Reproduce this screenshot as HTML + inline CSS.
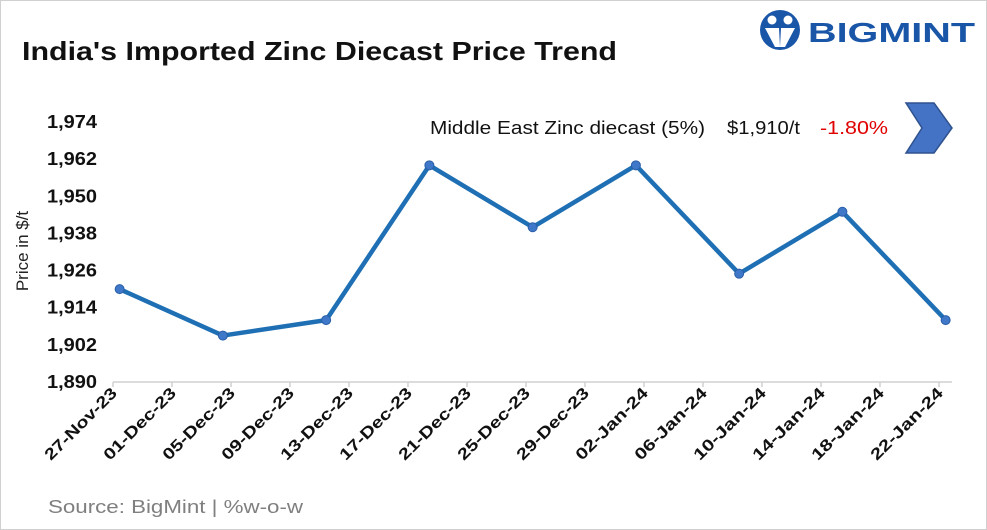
<!DOCTYPE html>
<html><head><meta charset="utf-8"><style>
body{margin:0;width:987px;height:530px;background:#fff;font-family:"Liberation Sans",sans-serif;overflow:hidden}
#frame{position:absolute;left:0;top:0;width:985px;height:528px;border:1px solid #d0d0d0}
</style></head><body>
<div id="frame"></div>
<svg width="987" height="530" style="position:absolute;left:0;top:0" id="chart">
<text x="22" y="60" font-size="26" font-weight="bold" fill="#111" textLength="595" lengthAdjust="spacingAndGlyphs">India's Imported Zinc Diecast Price Trend</text>
<g>
<circle cx="780" cy="30" r="20" fill="#1a56a8"/>
<circle cx="772" cy="20" r="4.5" fill="#fff"/><circle cx="788" cy="20" r="4.5" fill="#fff"/>
<path d="M765 28 L779 28 L780 47 L775 47 Z M781 28 L795 28 L785 47 L780 47 Z" fill="#fff"/>
<text x="808" y="42" font-size="28" font-weight="bold" fill="#1a56a8" textLength="167" lengthAdjust="spacingAndGlyphs">BIGMINT</text>
</g>
<text transform="translate(28,251) rotate(-90)" text-anchor="middle" font-size="17" fill="#222">Price in $/t</text>
<g id="yaxis"></g><g id="xaxis"></g><g id="series"></g>
<text x="430" y="134" font-size="18" fill="#111" textLength="275" lengthAdjust="spacingAndGlyphs">Middle East Zinc diecast (5%)</text>
<text x="727" y="134" font-size="18" fill="#111" textLength="73" lengthAdjust="spacingAndGlyphs">$1,910/t</text>
<text x="820" y="134" font-size="18" fill="#e00000" textLength="68" lengthAdjust="spacingAndGlyphs">-1.80%</text>
<path d="M906 103 L934 103 L952 128 L934 153 L906 153 L922 128 Z" fill="#4472c4" stroke="#2f528f" stroke-width="1.5"/>
<text x="48" y="513" font-size="18" fill="#7f7f7f" textLength="255" lengthAdjust="spacingAndGlyphs">Source: BigMint | %w-o-w</text>
</svg>
<script>
const yTicks=[1890,1902,1914,1926,1938,1950,1962,1974];
const xTickLabels=["27-Nov-23","01-Dec-23","05-Dec-23","09-Dec-23","13-Dec-23","17-Dec-23","21-Dec-23","25-Dec-23","29-Dec-23","02-Jan-24","06-Jan-24","10-Jan-24","14-Jan-24","18-Jan-24","22-Jan-24"];
const pointDays=[0,7,14,21,28,35,42,49,56];
const priceValues=[1920,1905,1910,1960,1940,1960,1925,1945,1910];
const NS="http://www.w3.org/2000/svg";
const yMin=1890,yMax=1974,yTop=122,yBot=382,x0=113,pxDay=14.75;
const ys=v=>yBot-(v-yMin)/(yMax-yMin)*(yBot-yTop);
const xs=d=>x0+(d+0.45)*pxDay;
function mk(tag,attrs,parent){const e=document.createElementNS(NS,tag);for(const k in attrs)e.setAttribute(k,attrs[k]);parent.appendChild(e);return e;}
const ya=document.getElementById('yaxis'),xa=document.getElementById('xaxis'),se=document.getElementById('series');
yTicks.forEach(v=>{const t=mk('text',{x:97,y:ys(v)+6,'text-anchor':'end','font-size':18,'font-weight':'bold',fill:'#111',textLength:50,lengthAdjust:'spacingAndGlyphs'},ya);t.textContent=v.toLocaleString('en-US');

});
const ax=mk('line',{x1:x0,x2:952,y1:yBot,y2:yBot,stroke:'#d0d0d0','stroke-width':1.5},xa);


xTickLabels.forEach((l,i)=>{const x=x0+i*4*pxDay;
mk('line',{x1:x,x2:x,y1:yBot,y2:yBot+5,stroke:'#d0d0d0','stroke-width':1.5},xa);
const t=mk('text',{transform:`translate(${x+5},${yBot+12}) rotate(-45)`,'text-anchor':'end','font-size':16,'font-weight':'bold',fill:'#111',textLength:95,lengthAdjust:'spacingAndGlyphs'},xa);t.textContent=l;

});
const pts=priceValues.map((v,i)=>[xs(pointDays[i]),ys(v)]);
const pl=mk('polyline',{points:pts.map(p=>p.join(',')).join(' '),fill:'none',stroke:'#1f6fb5','stroke-width':4.5,'stroke-linejoin':'round'},se);


pts.forEach(p=>{const c=mk('circle',{cx:p[0],cy:p[1],r:4.5,fill:'#3f78c8',stroke:'#2a5ea8','stroke-width':1},se);

});
</script>
</body></html>
